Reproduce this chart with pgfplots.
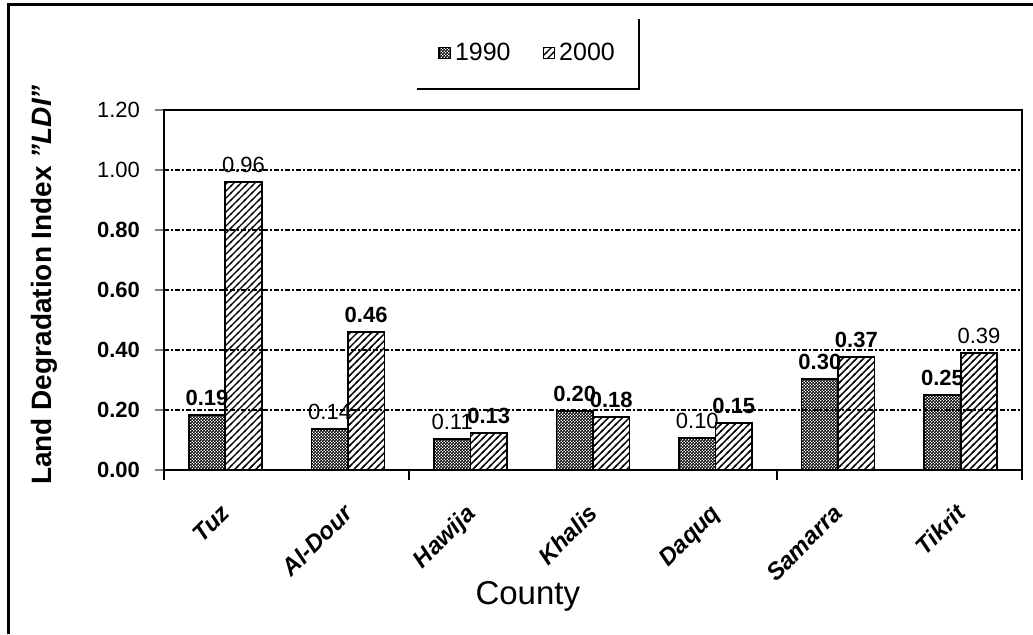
\documentclass[border=0pt]{standalone}
\usepackage{fontspec}
\setmainfont{Liberation Sans}
\usepackage{pgfplots}
\pgfplotsset{compat=1.18}
\usetikzlibrary{patterns}

% fine checker for 1990, heavy hatch for 2000
\pgfdeclarepatternformonly{checker}{\pgfqpoint{0pt}{0pt}}{\pgfqpoint{1.4pt}{1.4pt}}{\pgfqpoint{1.4pt}{1.4pt}}{%
  \pgfpathrectangle{\pgfqpoint{0pt}{0pt}}{\pgfqpoint{0.85pt}{0.85pt}}%
  \pgfpathrectangle{\pgfqpoint{0.7pt}{0.7pt}}{\pgfqpoint{0.85pt}{0.85pt}}%
  \pgfusepath{fill}}
\pgfdeclarepatternformonly{hatch}{\pgfqpoint{-1pt}{-1pt}}{\pgfqpoint{4.5pt}{4.5pt}}{\pgfqpoint{3.5pt}{3.5pt}}{%
  \pgfsetlinewidth{0.7pt}%
  \pgfpathmoveto{\pgfqpoint{-0.5pt}{-0.5pt}}%
  \pgfpathlineto{\pgfqpoint{4pt}{4pt}}%
  \pgfusepath{stroke}}

\begin{document}
\begin{tikzpicture}
\path[use as bounding box] (0,0) rectangle (516.5pt,317pt);
\begin{axis}[
    at={(82pt,82pt)}, anchor=south west,
    scale only axis,
    width=429pt, height=180pt,
    ybar=0pt, bar width=18.25pt,
    xmin=-0.5, xmax=6.5,
    ymin=0, ymax=1.2,
    tick pos=left,
    xtick={0,...,6},
    xticklabels={Tuz,Al-Dour,Hawija,Khalis,Daquq,Samarra,Tikrit},
    major x tick style={draw=none},
    extra x ticks={-0.5,1.5,4.5,6.5},
    extra x tick labels={},
    extra x tick style={major x tick style={draw=black, line width=0.8pt}, major tick length=5pt, grid=none},
    ytick={0,0.2,0.4,0.6,0.8,1.0,1.2},
    yticklabels={\textbf{0.00},\textbf{0.20},\textbf{0.40},\textbf{0.60},\textbf{0.80},1.00,1.20},
    tick align=outside,
    major tick length=4.5pt,
    ymajorgrids=true,
    grid style={black, line width=0.6pt, dash pattern=on 2.5pt off 1pt on 1pt off 1pt},
    axis line style={line width=1pt},
    ytick style={line width=0.7pt},
    yticklabel style={font=\fontsize{11}{13}\selectfont, xshift=-4pt},
    xticklabel style={font=\bfseries\itshape\fontsize{12}{14}\selectfont, yshift=-7pt, xshift=-3pt, rotate=45, anchor=north east},
    xlabel={County},
    xlabel style={font=\fontsize{16.5}{19}\selectfont, at={(axis description cs:0.424,-0.35)}, anchor=center},
    ylabel={\textbf{Land Degradation Index \textit{\symbol{"22}LDI\symbol{"22}}}},
    ylabel style={font=\fontsize{14}{16}\selectfont, at={(axis description cs:-0.139,0.514)}, anchor=center},
    point meta=explicit symbolic,
    nodes near coords,
    nodes near coords style={font=\fontsize{11}{13}\selectfont, yshift=1pt},
    legend columns=2,
    legend style={draw=none, fill=none, at={(axis description cs:0.425,1.158)}, anchor=center,
        font=\fontsize{12.5}{14}\selectfont,
        /tikz/every even column/.append style={column sep=14pt}},
    legend image code/.code={\draw[#1, line width=0.6pt] (0cm,-0.1cm) rectangle (0.2cm,0.1cm);},
]
\addplot[draw=black, line width=0.8pt, pattern=checker] coordinates {
    (0,0.183) [\textbf{0.19}]
    (1,0.137) [0.14]
    (2,0.103) [0.11]
    (3,0.197) [\textbf{0.20}]
    (4,0.107) [0.10]
    (5,0.303) [\textbf{0.30}]
    (6,0.250) [\textbf{0.25}]
};
\addplot[draw=black, line width=0.8pt, pattern=hatch] coordinates {
    (0,0.960) [0.96]
    (1,0.460) [\textbf{0.46}]
    (2,0.123) [\textbf{0.13}]
    (3,0.177) [\textbf{0.18}]
    (4,0.157) [\textbf{0.15}]
    (5,0.377) [\textbf{0.37}]
    (6,0.390) [0.39]
};
\legend{1990,2000}
\end{axis}
% outer frame (top and left only) and legend border (bottom and right only)
\draw[line width=1.5pt] (4pt,0pt) -- (4pt,315pt) -- (516.5pt,315pt);
\draw[line width=0.8pt] (208.5pt,272.5pt) -- (319.5pt,272.5pt) -- (319.5pt,307.5pt);
\end{tikzpicture}
\end{document}
